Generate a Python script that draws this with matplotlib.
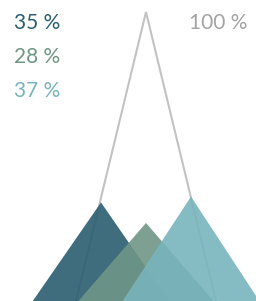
import matplotlib
matplotlib.use("Agg")
import matplotlib.pyplot as plt
from matplotlib.patches import Polygon

# shares of the whole (percent)
labels = ["35 %", "28 %", "37 %"]
values = [35, 28, 37]
total_label = "100 %"
total = 100

colors = ["#2b5d70", "#6f9686", "#78b4bc"]
fill_alpha = 0.9
outline_color = "#c2c2c2"

plt.rcParams["font.family"] = ["Lato", "DejaVu Sans"]

fig = plt.figure(figsize=(2.56, 3.01), dpi=100)
ax = fig.add_axes([0, 0, 1, 1])
ax.set_xlim(0, 256)
ax.set_ylim(0.0137, 1.041)
ax.axis("off")

center = 146
spacing = 45
half_w = 71


def tri(cx, h):
    return [(cx - half_w, 0), (cx, h), (cx + half_w, 0)]


# outline of the total
ax.add_patch(Polygon(tri(center, total / total), closed=False, fill=False,
                     edgecolor=outline_color, linewidth=1.5, zorder=1))

for i, (v, c) in enumerate(zip(values, colors)):
    cx = center + (i - 1) * spacing
    ax.add_patch(Polygon(tri(cx, v / total), closed=True, facecolor=c,
                         edgecolor="none", alpha=fill_alpha, zorder=2 + i))

for i, (lab, c) in enumerate(zip(labels, colors)):
    fig.text(14 / 256, 1 - (29 + 34 * i) / 301, lab, color=c, fontsize=15,
             ha="left", va="baseline")

fig.text(247 / 256, 1 - 29 / 301, total_label, color="#a3a3a3", fontsize=15,
         ha="right", va="baseline")

fig.savefig("out.png", dpi=100)
